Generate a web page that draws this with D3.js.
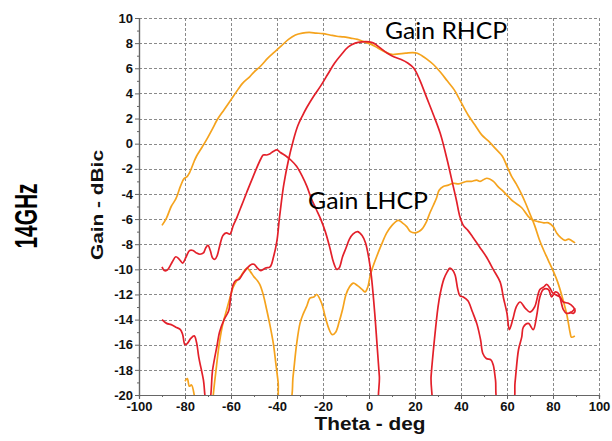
<!DOCTYPE html>
<html><head><meta charset="utf-8">
<script src="https://cdn.jsdelivr.net/npm/d3@7"></script>
<style>html,body{margin:0;padding:0;background:#fff;}svg{display:block;}</style>
</head><body>
<svg id="c" width="612" height="441"></svg>
<script>
// ---- data (theta in deg, gain in dBic) ----
const xTicks = [-100,-80,-60,-40,-20,0,20,40,60,80,100];
const yTicks = [-20,-18,-16,-14,-12,-10,-8,-6,-4,-2,0,2,4,6,8,10];

const orangeRHCP = [[-90,-6.5],[-88,-5.9],[-86,-5.0],[-84,-4.4],[-82,-3.4],[-80.5,-2.8],[-79,-2.6],[-78,-2.3],[-76,-1.4],[-75,-1.0],[-73,-0.4],[-71,0.2],[-68,1.2],[-66,1.9],[-63,2.7],[-60,3.5],[-57,4.3],[-55,4.8],[-52,5.3],[-50,5.7],[-47,6.2],[-44,6.8],[-41,7.3],[-38,7.8],[-35,8.3],[-32,8.65],[-29,8.8],[-26,8.85],[-23,8.8],[-20,8.75],[-17,8.65],[-14,8.55],[-11,8.5],[-8,8.4],[-5,8.3],[-2,8.1],[1,7.9],[4,7.6],[7,7.3],[10,7.1],[13,7.15],[16,7.2],[19,7.25],[21,7.2],[23,7.0],[25,6.75],[28,6.3],[31,5.7],[34,5.0],[37,4.3],[40,3.3],[43,2.3],[46,1.5],[49,0.7],[52,0.2],[55,-0.4],[58,-1.0],[60,-1.8],[62,-2.6],[64,-3.2],[66,-3.9],[68,-4.7],[70,-5.6],[72,-6.5],[74,-7.6],[76,-8.5],[78,-9.3],[80,-10.1],[82,-11.0],[84,-12.2],[86,-13.6],[87.5,-15.1],[88,-15.4],[89.5,-15.3]];

const redRHCP = [[-90,-14],[-88,-14.3],[-86,-14.4],[-84,-14.6],[-82,-14.8],[-81,-15.2],[-80,-16.0],[-79,-15.9],[-77.5,-15.5],[-76,-15.3],[-75,-15.8],[-74,-17.0],[-72,-18.8],[-70.6,-20.6],[-69.5,-20.6],[-68,-18],[-66,-16.0],[-65,-15.0],[-63,-14.0],[-61,-13.3],[-60,-12.0],[-59,-11.2],[-58,-10.9],[-56.5,-10.8],[-55,-10.4],[-53,-9.9],[-51,-9.6],[-50,-9.6],[-48.5,-9.9],[-47,-10.1],[-45,-9.9],[-43,-9.8],[-41.5,-9.0],[-40,-7.7],[-39,-6.0],[-38,-4.5],[-37,-3.2],[-35,-1.3],[-33,0.2],[-31,1.4],[-29,2.2],[-27,2.9],[-24,3.8],[-21,4.6],[-18,5.5],[-15,6.4],[-12,7.1],[-9,7.7],[-6,8.0],[-3,8.1],[0,8.1],[2,8.0],[5,7.6],[8,7.2],[11,6.9],[14,6.7],[17,6.4],[19.5,6.0],[22,5.1],[25,3.7],[28,2.3],[31,0.8],[34,-1.3],[36.5,-3.3],[38,-4.5],[39.5,-5.8],[41,-6.5],[43,-6.9],[45,-7.4],[48,-8.2],[51,-9.0],[54,-10.0],[57,-11.0],[58.5,-12.3],[60,-13.5],[61,-14.8],[62.5,-14.0],[64,-13.0],[65.7,-12.6],[68,-13.1],[70,-13.4],[72,-13.0],[74.3,-11.6],[76,-11.4],[77.2,-11.2],[78.7,-11.5],[80,-11.9],[83,-12.2],[84.5,-12.6],[86.7,-12.7],[88.8,-13.0],[89.6,-13.3],[88.8,-13.5],[87.2,-13.4]];

const redLHCP = [[-90,-9.8],[-89,-10.1],[-88,-10.1],[-87,-9.9],[-85.5,-9.4],[-84,-9.0],[-82.5,-9.2],[-81,-9.5],[-79.5,-9.0],[-78,-8.5],[-76.5,-8.5],[-75,-8.7],[-73.5,-8.8],[-72,-8.7],[-71,-8.3],[-70,-8.1],[-69,-8.5],[-68,-9.1],[-67,-9.2],[-66,-8.9],[-65,-8.2],[-63.5,-7.3],[-62,-7.1],[-60.5,-7.2],[-59,-6.5],[-57.5,-5.9],[-56,-5.2],[-54.7,-4.6],[-53,-3.8],[-51,-2.9],[-49,-2.0],[-47,-1.2],[-46,-0.9],[-44.5,-0.9],[-43,-0.8],[-41.5,-0.6],[-40,-0.5],[-38.5,-0.7],[-36,-1.0],[-34,-1.3],[-31.5,-1.8],[-29,-2.6],[-27,-3.4],[-25,-4.4],[-23,-5.2],[-21,-6.0],[-19,-7.0],[-17,-8.3],[-15.5,-9.4],[-14,-10.0],[-13,-9.9],[-11.5,-9.0],[-10,-8.3],[-8.5,-7.6],[-7,-7.2],[-5,-7.0],[-3,-7.3],[-1.5,-7.9],[0,-9.2],[1,-10.5],[2.5,-13.5],[3.5,-16.0],[4.5,-18.5],[5.5,-21],[26,-21.5],[27,-18.5],[28.5,-15.5],[30,-13.0],[31,-11.9],[32.5,-10.8],[34,-10.2],[35.2,-9.9],[36.5,-10.1],[37.5,-10.5],[38.5,-11.5],[39.5,-12.1],[41,-12.2],[43,-12.5],[45,-13.4],[47,-14.4],[48.5,-15.6],[49.5,-16.7],[51,-17.1],[53,-17.2],[54,-17.6],[55,-18.8],[56.2,-20.6],[62.5,-20.6],[63.5,-19],[65,-16.4],[66.4,-15.4],[67.1,-14.6],[69.3,-14.3],[71.4,-14.8],[72.9,-13.7],[74.3,-12.2],[75.8,-11.6],[78,-11.6],[79.4,-12.2],[80.9,-11.8],[82.3,-11.9],[84.5,-13.2],[85.9,-13.5],[88.1,-13.4],[89.6,-13.1]];

const orangeLHCP = [[-80,-18.9],[-79,-18.7],[-78.1,-19.3],[-77.2,-19.2],[-76,-20],[-75.5,-21],[-68,-21],[-67.7,-20],[-66.5,-18.0],[-65,-15.8],[-63.5,-14.3],[-62,-13.3],[-60.5,-12.3],[-59,-11.4],[-57.5,-10.9],[-56,-10.6],[-54.5,-10.2],[-53,-9.9],[-51.5,-10.2],[-50,-10.6],[-48.5,-10.9],[-47.5,-11.2],[-46,-12.0],[-44.5,-13.2],[-43,-14.5],[-41.6,-15.9],[-40.5,-17.5],[-39.5,-19.0],[-38.7,-20.6],[-34.5,-20.6],[-33,-18.5],[-31.5,-16.0],[-30,-14.3],[-28.5,-13.5],[-27,-12.9],[-25.7,-12.3],[-24,-12.2],[-22.7,-12.0],[-20.6,-12.7],[-19,-13.8],[-17.5,-14.7],[-16,-15.2],[-14.5,-15.0],[-13,-14.2],[-11.5,-13.2],[-10,-12.0],[-8.5,-11.4],[-6.8,-11.1],[-5,-11.3],[-3,-11.6],[-1.7,-11.8],[-0.5,-11.4],[0.4,-10.6],[1.5,-9.9],[3.3,-9.0],[5.5,-8.0],[7.7,-7.1],[10,-6.5],[12.7,-6.1],[14.5,-6.3],[16.4,-6.6],[18,-7.0],[20,-7.1],[21.5,-7.0],[23,-6.8],[25,-6.2],[26.5,-5.5],[28,-4.9],[29.4,-4.3],[30.5,-3.7],[32.3,-3.4],[34.5,-3.3],[36.7,-3.15],[39,-3.2],[42.5,-3.0],[44.5,-3.0],[46.8,-2.9],[48.3,-3.0],[51.2,-2.75],[54.1,-3.0],[56,-3.4],[58.4,-3.8],[60.5,-4.2],[62.7,-4.6],[66.4,-5.1],[69.3,-5.8],[71.4,-6.1],[73.6,-6.2],[76,-6.3],[78,-6.3],[80.1,-6.6],[81.6,-7.1],[83.5,-7.5],[85.2,-7.7],[86.7,-7.6],[88,-7.7],[89.6,-7.9]];

const seriesColors = {orange:"#f5a31d", red:"#e3202a"};
const labels = {rhcp:"Gain RHCP", lhcp:"Gain LHCP", xTitle:"Theta - deg", yTitle:"Gain - dBic", freq:"14GHz"};

// ---- layout ----
const L=139, R=599, T=18, B=395;
const svg = d3.select("#c");
const x = d3.scaleLinear().domain([-100,100]).range([L,R]);
const y = d3.scaleLinear().domain([-20,10]).range([B,T]);

// grid
const grid = svg.append("g").attr("stroke","#8a8a8a").attr("stroke-width",1).attr("stroke-dasharray","3,2");
grid.selectAll("line.v").data(xTicks.slice(1)).join("line")
  .attr("x1",d=>x(d)+0.5).attr("x2",d=>x(d)+0.5).attr("y1",T).attr("y2",B);
grid.selectAll("line.h").data(yTicks.slice(1)).join("line")
  .attr("y1",d=>Math.round(y(d))+0.5).attr("y2",d=>Math.round(y(d))+0.5).attr("x1",L).attr("x2",R);

// axes
const font = "'Liberation Sans', Arial, sans-serif";
const yAxis = d3.axisLeft(y).tickValues(yTicks).tickSize(4).tickPadding(2).tickFormat(d=>d);
const yMinor = d3.axisLeft(y).tickValues(d3.range(-19,10,2)).tickSize(2).tickFormat("");
const xAxis = d3.axisBottom(x).tickValues(xTicks).tickSize(4).tickPadding(3).tickFormat(d=>d);
const xMinor = d3.axisBottom(x).tickValues(d3.range(-90,100,20)).tickSize(2).tickFormat("");

function styleAxis(g){
  g.select(".domain").attr("stroke","#666").attr("stroke-width",1.2);
  g.selectAll(".tick line").attr("stroke","#666");
  g.selectAll("text").attr("font-family",font).attr("font-weight","bold").attr("font-size",13).attr("fill","#111");
}
svg.append("g").attr("transform",`translate(${L},0)`).call(yMinor).call(styleAxis);
svg.append("g").attr("transform",`translate(${L},0)`).call(yAxis).call(styleAxis);
svg.append("g").attr("transform",`translate(0,${B})`).call(xMinor).call(styleAxis);
svg.append("g").attr("transform",`translate(0,${B})`).call(xAxis).call(styleAxis);

// clip
svg.append("clipPath").attr("id","pc").append("rect").attr("x",L).attr("y",T).attr("width",R-L).attr("height",B-T);
const line = d3.line().x(d=>x(d[0])).y(d=>y(d[1])).curve(d3.curveCatmullRom.alpha(0.5));
const lines = svg.append("g").attr("clip-path","url(#pc)").attr("fill","none").attr("stroke-width",1.7).attr("stroke-linejoin","round");
[[orangeLHCP,seriesColors.orange],[orangeRHCP,seriesColors.orange],[redLHCP,seriesColors.red],[redRHCP,seriesColors.red]].forEach(([d,c])=>{
  lines.append("path").datum(d).attr("d",line).attr("stroke",c);
});

// texts
svg.append("text").attr("x",x(7)).attr("y",38.5).attr("font-family","Lato, 'Open Sans', sans-serif")
  .attr("font-size",23).attr("fill","#000").attr("textLength",122).attr("lengthAdjust","spacingAndGlyphs").text(labels.rhcp);
svg.append("text").attr("x",x(-26.5)).attr("y",208.5).attr("font-family","Lato, 'Open Sans', sans-serif")
  .attr("font-size",23).attr("fill","#000").attr("textLength",120).attr("lengthAdjust","spacingAndGlyphs").text(labels.lhcp);
svg.append("text").attr("x",370).attr("y",430).attr("text-anchor","middle").attr("font-family",font).attr("font-weight","bold")
  .attr("font-size",18).attr("fill","#111").attr("textLength",111).attr("lengthAdjust","spacingAndGlyphs").text(labels.xTitle);
svg.append("text").attr("transform","translate(103,205) rotate(-90)").attr("text-anchor","middle").attr("font-family",font).attr("font-weight","bold")
  .attr("font-size",16).attr("fill","#111").attr("textLength",110).attr("lengthAdjust","spacingAndGlyphs").text(labels.yTitle);
svg.append("text").attr("transform","translate(37,216) rotate(-90)").attr("text-anchor","middle").attr("font-family",font).attr("font-weight","bold")
  .attr("font-size",31).attr("fill","#000").attr("textLength",65).attr("lengthAdjust","spacingAndGlyphs").text(labels.freq);
</script>
</body></html>
